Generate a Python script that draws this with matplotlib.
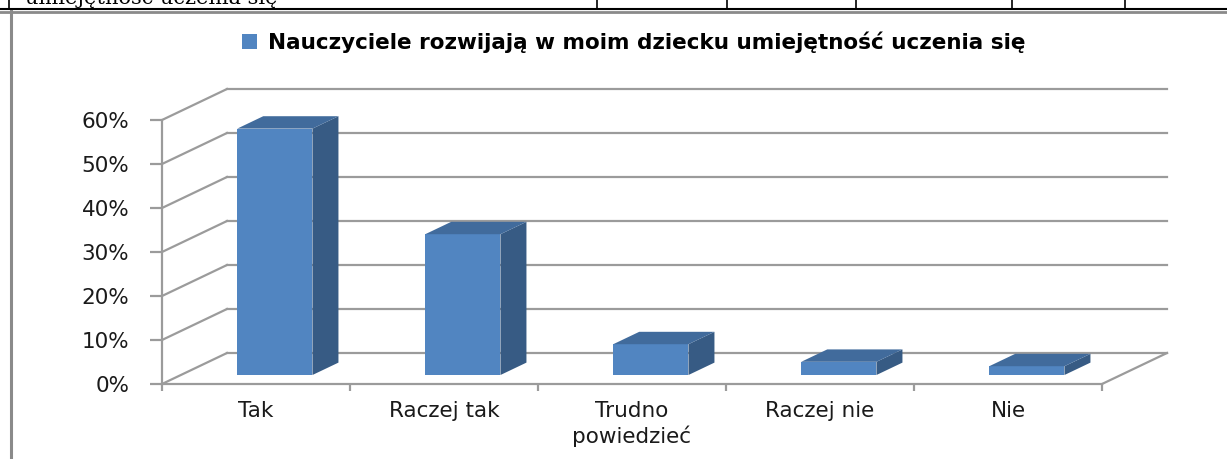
import numpy as np
import matplotlib
matplotlib.use("Agg")
import matplotlib.pyplot as plt
from matplotlib.lines import Line2D

# data
categories = ["Tak", "Raczej tak", "Trudno\npowiedzieć", "Raczej nie", "Nie"]
values = [56, 32, 7, 3, 2]
y_ticks = [0, 10, 20, 30, 40, 50, 60]
y_labels = ["0%", "10%", "20%", "30%", "40%", "50%", "60%"]
series_name = "Nauczyciele rozwijają w moim dziecku umiejętność uczenia się"

plt.rcParams["font.family"] = ["DejaVu Sans"]

W, H = 1227, 459
fig = plt.figure(figsize=(W / 100, H / 100), dpi=100)

# axes placed so that one category = 188 px and 10% = 44 px
ax = fig.add_axes([162 / W, 1 - 397.2 / H, (1196 - 162) / W, (397.2 - 76) / H])
ax.set_xlim(-0.5, 5.0)
ax.set_ylim(-3, 70)

# 3d depth offset of the back wall (in data units)
DX = 65 / 188
DY = 31 / 4.4
grid_col = "#9b9b9b"
n = len(categories)
x = np.arange(n)

# back wall gridlines and left wall diagonals
for v in y_ticks:
    ax.plot([-0.5 + DX, n - 0.5 + DX], [v + DY, v + DY], color=grid_col, lw=1.6, zorder=1)
    ax.plot([-0.5, -0.5 + DX], [v, v + DY], color=grid_col, lw=1.6, zorder=1)
# right floor edge
ax.plot([n - 0.5, n - 0.5 + DX], [0, DY], color=grid_col, lw=1.6, zorder=1)

# bars: front face placed a bit into the depth, bar depth 0.4 of the wall depth
fx, fy = 0.29 * DX, 0.29 * DY
bdx, bdy = 0.4 * DX, 0.4 * DY
bw = 0.4
front = "#5185c1"
side = "#375b84"
top = "#416b9c"
bars = ax.bar(x + fx, values, width=bw, bottom=fy, color=front, zorder=3,
              label=series_name)
for xi, v in zip(x, values):
    l = xi + fx - bw / 2
    r = xi + fx + bw / 2
    ax.fill([r, r + bdx, r + bdx, r], [fy, fy + bdy, fy + bdy + v, fy + v],
            color=side, zorder=3, lw=0)
    ax.fill([l, r, r + bdx, l + bdx], [fy + v, fy + v, fy + v + bdy, fy + v + bdy],
            color=top, zorder=3, lw=0)

# axes lines
for s in ["top", "right"]:
    ax.spines[s].set_visible(False)
ax.spines["left"].set_bounds(0, 60)
ax.spines["left"].set_position(("data", -0.5))
ax.spines["bottom"].set_position(("data", 0))
ax.spines["bottom"].set_bounds(-0.5, n - 0.5)
for s in ["left", "bottom"]:
    ax.spines[s].set_color(grid_col)
    ax.spines[s].set_linewidth(1.6)

ax.set_yticks(y_ticks)
ax.set_yticklabels(y_labels)
ax.tick_params(axis="y", length=8.6, width=1.6, color=grid_col, pad=15,
               labelsize=15.5, labelcolor="#1a1a1a")

ax.set_xticks(np.arange(n + 1) - 0.5)
ax.set_xticklabels([])
ax.set_xticks(x, minor=True)
ax.set_xticklabels(categories, minor=True, linespacing=1.25)
ax.tick_params(axis="x", which="major", length=5, width=1.6, color=grid_col)
ax.tick_params(axis="x", which="minor", length=0, pad=12, labelsize=15.5,
               labelcolor="#1a1a1a")
ax.patch.set_visible(False)

# legend at the top
fig.legend(handles=[bars], loc="center", bbox_to_anchor=(634 / W, 1 - 42 / H),
           frameon=False, handlelength=0.7, handleheight=0.7, handletextpad=0.5,
           prop={"weight": "bold", "size": 15.5})

# page remains: table row above the chart and the chart frame
fig.text(25 / W, 1 - 4 / H, "umiejętność uczenia się", family="DejaVu Serif",
         fontsize=15, va="baseline", ha="left", color="black")
fig.add_artist(Line2D([0, 1], [1 - 9 / H, 1 - 9 / H], color="black", lw=1.5,
                      transform=fig.transFigure))
for px in [9, 597, 727, 856, 1012, 1125]:
    fig.add_artist(Line2D([px / W, px / W], [1, 1 - 9 / H], color="black", lw=1.2,
                          transform=fig.transFigure))
fig.add_artist(Line2D([0, 1], [1 - 11.5 / H, 1 - 11.5 / H], color="#8a8a8a", lw=2,
                      transform=fig.transFigure))
fig.add_artist(Line2D([11 / W, 11 / W], [0, 1 - 11 / H], color="#8a8a8a", lw=2.2,
                      transform=fig.transFigure))

fig.savefig("out.png", dpi=100)
